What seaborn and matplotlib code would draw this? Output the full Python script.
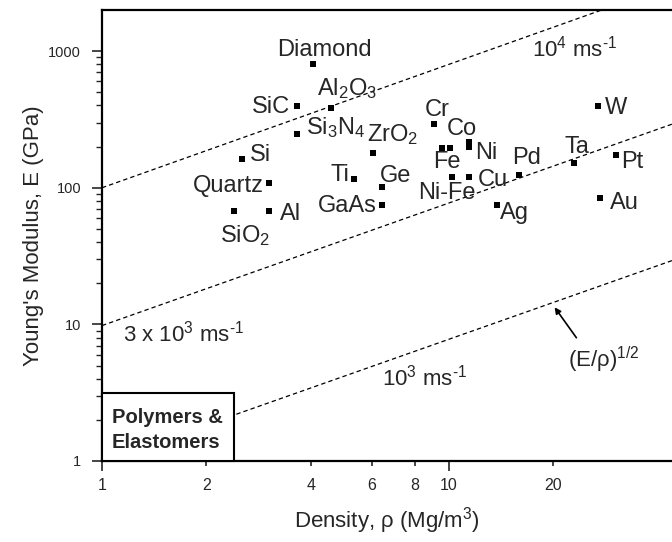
import matplotlib
matplotlib.use("Agg")
import matplotlib.pyplot as plt
import seaborn as sns
import pandas as pd
from matplotlib.patches import Rectangle
from matplotlib.ticker import FixedLocator, NullFormatter, FixedFormatter

# ---- Data ----
materials = ["Diamond", "Al$_2$O$_3$", "SiC", "Si$_3$N$_4$", "Si", "Quartz",
             "SiO$_2$", "Al", "ZrO$_2$", "Ti", "Ge", "GaAs",
             "Cr", "Co", "Fe", "Ni", "", "Ni-Fe", "Cu", "Pd", "Ag",
             "Ta", "W", "Pt", "Au"]
density = [4.05, 4.57, 3.65, 3.65, 2.53, 3.03,
           2.40, 3.03, 6.03, 5.33, 6.42, 6.43,
           9.07, 10.07, 9.53, 11.44, 11.44, 10.18, 11.46, 15.98, 13.80,
           22.97, 26.94, 30.43, 27.24]
modulus = [800, 385, 397, 249, 161, 107.5,
           67.6, 67.6, 179, 115.7, 100.5, 74.9,
           292, 197, 197, 215, 199, 119, 119, 125, 75.2,
           153, 397, 174, 84.1]

# constant sound-speed guide lines (E/rho)^1/2, end points
line_1e4_rho = [1.0, 27.6]
line_1e4_E = [100, 2000]
line_3e3_rho = [1.0, 44.0]
line_3e3_E = [9.8, 292]
line_1e3_rho = [2.44, 44.0]
line_1e3_E = [2.2, 29.3]

x_minor_ticks = [2, 4, 6, 8, 20]

# label placement: offset in pixels from the marker, horizontal alignment
LABEL_POS = {
    "Diamond": (11.3, 8.3, "center"),
    "Al$_2$O$_3$": (-14, 12.7, "left"),
    "SiC": (-7.3, -6.7, "right"),
    "Si$_3$N$_4$": (8.7, -0.3, "left"),
    "Si": (8.3, -1.7, "left"),
    "Quartz": (-5, -8.3, "right"),
    "SiO$_2$": (-14, -31.2, "left"),
    "Al": (11, -8.7, "left"),
    "ZrO$_2$": (-6, 12.3, "left"),
    "Ti": (-4.3, -1.7, "right"),
    "Ge": (-2.3, 5, "left"),
    "GaAs": (-6, -7.4, "right"),
    "Cr": (-9.3, 8.3, "left"),
    "Co": (-3.3, 12.7, "left"),
    "Fe": (-8.7, -20.3, "left"),
    "Ni": (5.7, -16.8, "left"),
    "Ni-Fe": (-33.7, -21.6, "left"),
    "Cu": (8.7, -8.3, "left"),
    "Pd": (-7, 11, "left"),
    "Ag": (2.7, -14.3, "left"),
    "Ta": (-9.3, 10, "left"),
    "W": (6.7, -7.7, "left"),
    "Pt": (5, -12.7, "left"),
    "Au": (10, -11, "left"),
}

sns.set_style("ticks")
plt.rcParams["font.family"] = ["Liberation Sans", "DejaVu Sans"]
plt.rcParams["mathtext.fontset"] = "custom"
plt.rcParams["mathtext.rm"] = "Liberation Sans"
plt.rcParams["mathtext.it"] = "Liberation Sans:italic"
plt.rcParams["mathtext.bf"] = "Liberation Sans:bold"

W, H = 672, 542
fig = plt.figure(figsize=(W / 100, H / 100), dpi=100)
ax = fig.add_axes([102 / W, 81 / H, 570 / W, 451 / H])

df = pd.DataFrame({"material": materials, "density": density, "modulus": modulus})

dash = (0, (3.5, 2.5))
for xs, ys in [(line_1e4_rho, line_1e4_E), (line_3e3_rho, line_3e3_E),
               (line_1e3_rho, line_1e3_E)]:
    sns.lineplot(x=xs, y=ys, ax=ax, color="black", lw=0.9, linestyle=dash,
                 zorder=1)

sns.scatterplot(data=df, x="density", y="modulus", ax=ax, marker="s", s=14,
                color="black", linewidth=0, zorder=4)

for name, rho, E in zip(materials, density, modulus):
    if not name:
        continue
    dx, dy, ha = LABEL_POS[name]
    ax.annotate(name, xy=(rho, E), xytext=(dx, dy), textcoords="offset pixels",
                ha=ha, va="baseline", fontsize=17)

ax.set_xscale("log")
ax.set_yscale("log")
ax.set_xlim(1, 44)
ax.set_ylim(1, 2000)

# ticks
ax.yaxis.set_major_locator(FixedLocator([1, 10, 100, 1000]))
ax.yaxis.set_major_formatter(FixedFormatter(["1", "10", "100", "1000"]))
ax.yaxis.set_minor_locator(FixedLocator(
    [m * 10 ** d for d in range(0, 4) for m in range(2, 10) if m * 10 ** d < 2000]))
ax.yaxis.set_minor_formatter(NullFormatter())

ax.xaxis.set_major_locator(FixedLocator([1, 10]))
ax.xaxis.set_major_formatter(FixedFormatter(["1", "10"]))
ax.xaxis.set_minor_locator(FixedLocator(x_minor_ticks))
ax.xaxis.set_minor_formatter(FixedFormatter([str(v) for v in x_minor_ticks]))

ax.tick_params(axis="y", which="major", direction="out", length=7.5, width=1.2,
               pad=7.5, labelsize=10.5)
ax.tick_params(axis="y", which="minor", direction="out", length=4, width=1.0)
ax.tick_params(axis="x", which="major", direction="out", length=7, width=1.2,
               pad=5.2, labelsize=11.5)
ax.tick_params(axis="x", which="minor", direction="out", length=3.6, width=1.2,
               pad=8.6, labelsize=11.5)

for side in ["left", "bottom", "top"]:
    ax.spines[side].set_linewidth(1.6)
    ax.spines[side].set_color("black")
ax.spines["right"].set_visible(False)

ax.set_xlabel("Density, \u03c1 (Mg/m$^3$)", fontsize=16, labelpad=9)
ax.set_ylabel("Young's Modulus, E (GPa)", fontsize=16, labelpad=3)

# guide line labels
inv = "$^{\\text{-1}}$"
ax.text(0.754, 0.898, "10$^4$ ms" + inv, transform=ax.transAxes,
        fontsize=16, va="baseline", ha="left")
ax.text(0.0374, 0.2645, "3 x 10$^3$ ms" + inv, transform=ax.transAxes,
        fontsize=16, va="baseline", ha="left")
ax.text(0.4907, 0.1663, "10$^3$ ms" + inv, transform=ax.transAxes,
        fontsize=16, va="baseline", ha="left")
ax.text(0.818, 0.209, "(E/\u03c1)$^{1/2}$", transform=ax.transAxes,
        fontsize=16, va="baseline", ha="left")
ax.annotate("", xy=(0.7912, 0.3459), xytext=(0.8351, 0.2683),
            xycoords="axes fraction", textcoords="axes fraction",
            arrowprops=dict(arrowstyle="-|>", color="black", lw=1.2,
                            mutation_scale=9))

# polymers box
ax.add_patch(Rectangle((0, 0), 0.2316, 0.1508, transform=ax.transAxes,
                       facecolor="white", edgecolor="black", lw=1.5, zorder=3,
                       clip_on=False))
ax.text(0.017, 0.0843, "Polymers &", transform=ax.transAxes, fontsize=14.5,
        fontweight="bold", va="baseline", ha="left", zorder=5)
ax.text(0.017, 0.0288, "Elastomers", transform=ax.transAxes, fontsize=14.5,
        fontweight="bold", va="baseline", ha="left", zorder=5)

fig.savefig("out.png", dpi=100)
